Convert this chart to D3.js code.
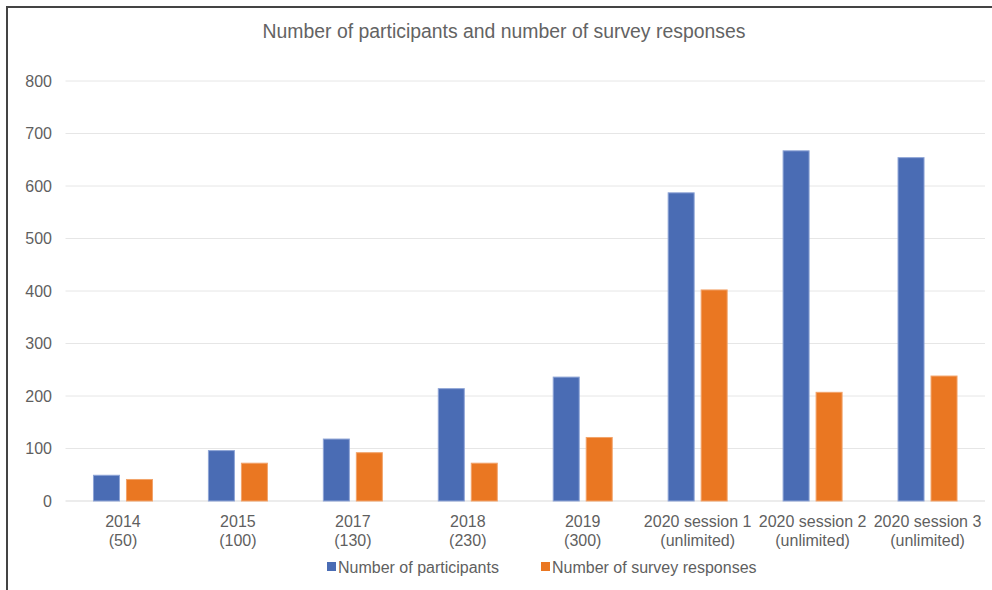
<!DOCTYPE html>
<html><head><meta charset="utf-8">
<script src="https://cdn.jsdelivr.net/npm/d3@7"></script>
<style>
html,body{margin:0;padding:0;background:#fff;}
svg{display:block;font-family:"Liberation Sans",Arial,sans-serif;}
</style></head>
<body>
<svg id="chart" width="992" height="590"></svg>
<script>
const categories = ["2014","2015","2017","2018","2019","2020 session 1","2020 session 2","2020 session 3"];
const subLabels = ["(50)","(100)","(130)","(230)","(300)","(unlimited)","(unlimited)","(unlimited)"];
const participants = [49, 96, 118, 214, 236, 587, 667, 654];
const responses = [41, 72, 92, 72, 121, 402, 207, 238];
const seriesNames = ["Number of participants","Number of survey responses"];
const yTicks = [0,100,200,300,400,500,600,700,800];
const colors = ["#4a6cb4","#ea7722"];
const strokes = ["#8ea4d6","#f2a36a"];

const svg = d3.select("#chart");
const W = 992, H = 590;
const m = {left:65.5, right:985, top:81, bottom:501};

// frame
svg.append("path").attr("d",`M7,${H} L7,7 L${W},7`).attr("fill","none").attr("stroke","#444").attr("stroke-width",2);

svg.append("text").attr("x",504).attr("y",38).attr("text-anchor","middle")
  .attr("font-size",19.4).attr("fill","#636363").text("Number of participants and number of survey responses");

const x = d3.scaleBand().domain(categories).range([m.left,m.right]).paddingInner(0).paddingOuter(0);
const y = d3.scaleLinear().domain([0,800]).range([m.bottom,m.top]);

// gridlines
svg.append("g").selectAll("line").data(yTicks).join("line")
  .attr("x1",m.left).attr("x2",m.right)
  .attr("y1",d=>y(d)).attr("y2",d=>y(d))
  .attr("stroke",d=>d===0?"#d9d9d9":"#e6e6e6").attr("stroke-width",1);

// y axis labels
const yAxis = d3.axisLeft(y).tickValues(yTicks).tickSize(0).tickPadding(0);
const gy = svg.append("g").attr("transform",`translate(52,0)`).call(yAxis);
gy.select(".domain").remove();
gy.selectAll("text").attr("font-size",16).attr("fill","#5f5f5f").attr("font-family","Liberation Sans, Arial, sans-serif");

// bars
const bw = 26, gap = 7;
const series = [participants, responses];
series.forEach((vals,si)=>{
  svg.append("g").selectAll("rect").data(vals).join("rect")
    .attr("x",(d,i)=>x(categories[i]) + x.bandwidth()/2 + (si===0 ? -gap/2-bw : gap/2))
    .attr("y",d=>y(d))
    .attr("width",bw)
    .attr("height",d=>y(0)-y(d))
    .attr("fill",colors[si])
    .attr("stroke",strokes[si]).attr("stroke-width",1);
});

// x labels
const xAxis = d3.axisBottom(x).tickSize(0).tickPadding(0);
const gx = svg.append("g").attr("transform",`translate(0,${m.bottom})`).call(xAxis);
gx.select(".domain").remove();
gx.selectAll("text").remove();
gx.selectAll(".tick").each(function(d,i){
  const t = d3.select(this).append("text").attr("text-anchor","middle")
    .attr("font-size",16).attr("fill","#5f5f5f").attr("font-family","Liberation Sans, Arial, sans-serif");
  t.append("tspan").attr("x",0).attr("y",26).text(d);
  t.append("tspan").attr("x",0).attr("y",45).text(subLabels[i]);
});

// legend
const lg = svg.append("g");
const legendX = [327, 541];
seriesNames.forEach((n,i)=>{
  lg.append("rect").attr("x",legendX[i]).attr("y",562).attr("width",9).attr("height",9).attr("fill",colors[i]);
  lg.append("text").attr("x",legendX[i]+11).attr("y",573).attr("font-size",16).attr("fill","#5f5f5f").text(n);
});
</script>
</body></html>
